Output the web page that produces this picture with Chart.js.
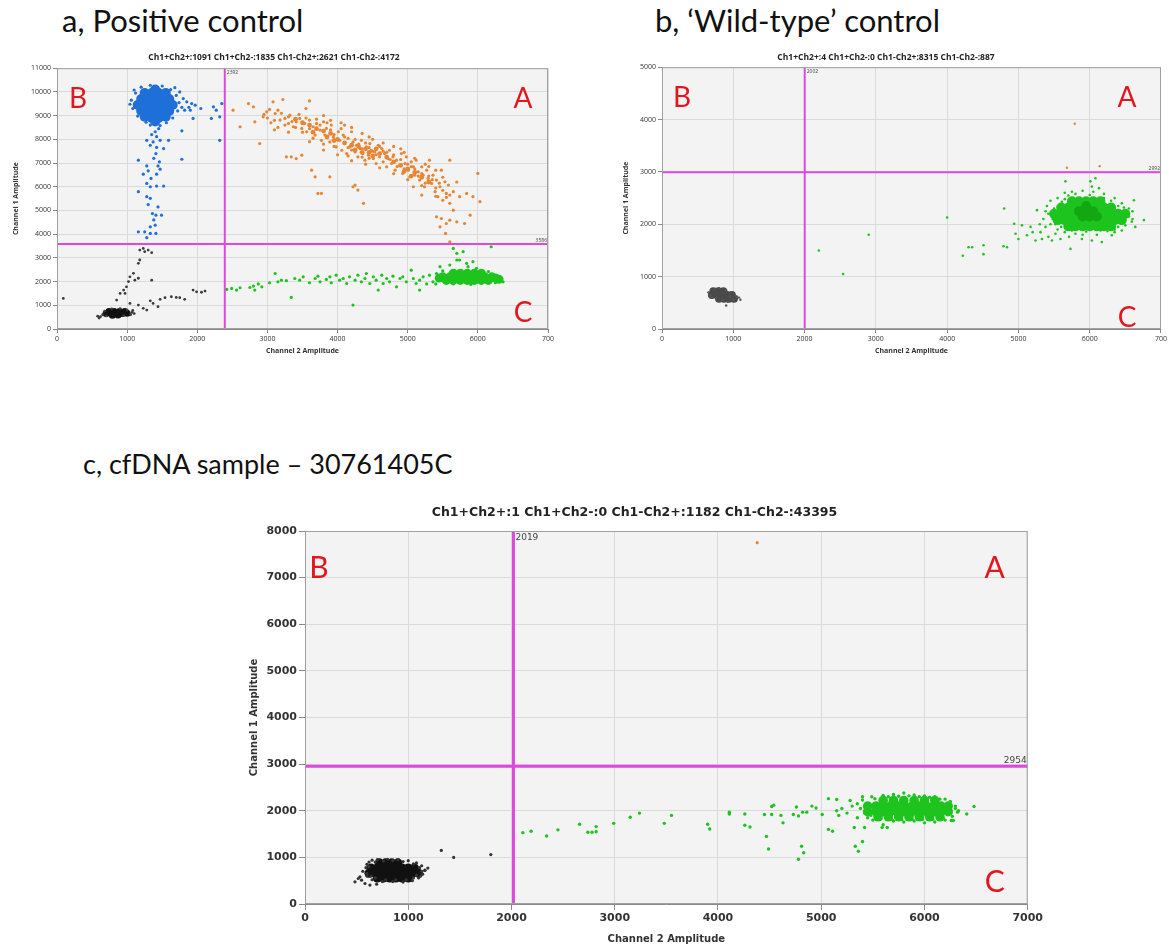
<!DOCTYPE html>
<html>
<head>
<meta charset="utf-8">
<script src="https://cdn.jsdelivr.net/npm/chart.js@4.4.1/dist/chart.umd.min.js"></script>
<style>
  body { margin: 0; background: #fff; width: 1169px; height: 947px; position: relative; overflow: hidden; }
  .panel-title { position: absolute; font-family: Lato, "Open Sans", sans-serif; color: #111; white-space: nowrap; }
  .box { position: absolute; }
</style>
</head>
<body>
<div class="panel-title" style="left:62px;top:1px;font-size:31px">a, Positive control</div>
<div class="panel-title" style="left:655px;top:1px;font-size:31px">b, ‘Wild-type’ control</div>
<div class="panel-title" style="left:83px;top:447px;font-size:27px">c, cfDNA sample – 30761405C</div>

<div class="box" style="left:0;top:52px;width:560px;height:307px"><canvas id="chartA"></canvas></div>
<div class="box" style="left:610px;top:52px;width:559px;height:307px"><canvas id="chartB"></canvas></div>
<div class="box" style="left:240px;top:505px;width:805px;height:442px"><canvas id="chartC"></canvas></div>

<script>
// ---- shared labels ----
const quadLetters = ['B', 'A', 'C'];
const xTitle = 'Channel 2 Amplitude';
const yTitle = 'Channel 1 Amplitude';
const xTickValues = [0, 1000, 2000, 3000, 4000, 5000, 6000, 7000];

// ---- a, Positive control ----
const headerA = 'Ch1+Ch2+:1091 Ch1+Ch2-:1835 Ch1-Ch2+:2621 Ch1-Ch2-:4172';
const xTicksA = ['0', '1000', '2000', '3000', '4000', '5000', '6000', '700'];
const yMaxA = 11000;
const thrA = [2392, 3586];

const blueCoreA = [
  [1250, 8950], [1350, 8900], [1450, 8900], [1550, 8950],
  [1200, 9200], [1300, 9200], [1400, 9200], [1500, 9200], [1600, 9200],
  [1150, 9450], [1250, 9450], [1350, 9450], [1450, 9450], [1550, 9450], [1650, 9450],
  [1200, 9700], [1300, 9700], [1400, 9700], [1500, 9700], [1600, 9700],
  [1250, 9950], [1350, 9950], [1450, 9950], [1550, 9950],
  [1400, 10100], [1400, 8750]
];
const blueA = [
  [1080, 9300], [1060, 9650], [1120, 9950], [1200, 10200], [1330, 10280], [1500, 10250],
  [1620, 10100], [1700, 9850], [1740, 9550], [1720, 9200], [1650, 8900], [1560, 8700],
  [1270, 8720], [1150, 8980], [1330, 8600], [1470, 8580], [1040, 9480], [1780, 9350],
  [1100, 10080], [1680, 10180],
  [1400, 8320], [1420, 8110], [1280, 7960], [1370, 7890], [1470, 7960], [1590, 7960],
  [1330, 7750], [1420, 7660], [1520, 7610], [1410, 7400], [1160, 7120], [1780, 7160],
  [1280, 6880], [1440, 6880], [1470, 6740], [1420, 6530], [1300, 6670], [1230, 6530],
  [1280, 6140], [1330, 6000], [1420, 6030], [1520, 6030], [1160, 5790], [1280, 5580],
  [1330, 5510], [1360, 4870], [1410, 4800], [1490, 4800], [1330, 4310], [1400, 4380],
  [1250, 4100], [1160, 4100], [1330, 4030], [1410, 4030], [1350, 8200], [1450, 8450],
  [1380, 7200], [1460, 7050], [1340, 6350], [1300, 5250], [1440, 5150], [1380, 4600],
  [1280, 3850],
  [1750, 10000], [1800, 9720], [1850, 9580], [1920, 9510], [1970, 9440], [1820, 9230],
  [1900, 9230], [1940, 8880], [1780, 8360], [2230, 9370], [2270, 9230], [2350, 9510],
  [2320, 8950], [2320, 7960], [2200, 8880], [1880, 9350], [2050, 9300]
];
const orangeCoreA = [
  [3400, 8850], [3500, 8700], [3600, 8600], [3700, 8450], [3800, 8350], [3900, 8250],
  [3650, 8300], [3850, 8100], [4000, 8000], [4100, 7850], [4200, 7750], [4300, 7700],
  [4400, 7600], [4250, 7550], [4450, 7450], [4550, 7600], [4600, 7400], [4500, 7300],
  [4700, 7250], [4800, 7050], [4900, 6900], [5000, 6750], [5100, 6600], [4950, 6650],
  [5050, 6450], [5200, 6400], [5300, 6200], [3950, 7950], [4350, 7450]
];
const orangeA = [
  [2510, 9230], [2610, 8530], [2730, 9510], [2800, 9370], [2820, 8740], [2890, 7820],
  [2940, 8950], [2990, 9160], [3030, 9260], [3080, 9580], [3110, 9090], [3150, 9230],
  [3180, 8810], [3220, 9680], [3250, 8880], [3300, 8670], [3320, 9020], [3370, 8530],
  [3410, 8740], [3460, 8880], [3490, 8460], [3530, 8670], [3560, 8320], [3600, 9620],
  [3600, 8810], [3650, 8530], [3680, 8180], [3700, 8670], [3750, 8390], [3770, 7960],
  [3800, 8740], [3820, 8180], [3840, 8460], [3890, 7890], [3910, 8600], [3940, 8100],
  [3980, 7680], [4010, 8320], [4030, 7960], [4060, 7540], [4080, 8180], [4100, 7820],
  [4130, 7400], [4150, 8040], [4170, 7680], [4200, 8320], [4220, 7890], [4250, 7470],
  [4270, 7750], [4290, 7260], [4320, 7610], [4340, 7960], [4360, 7400], [4390, 7120],
  [4410, 7680], [4440, 7330], [4460, 7820], [4480, 7540], [4510, 7190], [4530, 7470],
  [4550, 6980], [4580, 7750], [4600, 7260], [4630, 7610], [4650, 7050], [4670, 7400],
  [4700, 6840], [4720, 7190], [4740, 7540], [4770, 6980], [4790, 7260], [4820, 6700],
  [4840, 7120], [4890, 6910], [4910, 7400], [4930, 6560], [4960, 6980], [4980, 7260],
  [5010, 6700], [5030, 6420], [5050, 7050], [5080, 6840], [5100, 6490], [5120, 7120],
  [5150, 6630], [5170, 6280], [5200, 6840], [5220, 6490], [5240, 6000], [5270, 6700],
  [5290, 6350], [5310, 7120], [5340, 6140], [5360, 6490], [5390, 5790], [5410, 6280],
  [5430, 5580], [5460, 6000], [5480, 6700], [5500, 5430], [5530, 6210], [5550, 5720],
  [5580, 6070], [5600, 7120], [5600, 5300], [5650, 5790], [5650, 5010], [5410, 4730],
  [5480, 4660], [5550, 4450], [5600, 4590], [5700, 4520], [5810, 4450], [5460, 4310],
  [5540, 4030], [5600, 3680], [5740, 5580], [5840, 5720], [5930, 5580], [6030, 5370],
  [5890, 4800], [6000, 6560], [5200, 5650], [5080, 6000], [4220, 6000], [4290, 5860],
  [4250, 6070], [4370, 5300], [3720, 5720], [3770, 5720], [3630, 6700], [3680, 6420],
  [3890, 6420], [3270, 7260], [3340, 7260], [3410, 7190], [3490, 7330],
  [3000, 8900], [3100, 8800], [3200, 9100], [3300, 8950], [3350, 8750], [3450, 9050],
  [3550, 8900], [3600, 8450], [3700, 8850], [3750, 8600], [3850, 8700], [3900, 8400],
  [3950, 8200], [4050, 8450], [4100, 8100], [4150, 7650], [4200, 7550], [4250, 8000],
  [4300, 7800], [4350, 7600], [4400, 7850], [4450, 7650], [4500, 7500], [4550, 7350],
  [4600, 7700], [4650, 7500], [4700, 7450], [4750, 7150], [4800, 7350], [4850, 6850],
  [4900, 7150], [4950, 6750], [5000, 6950], [5050, 6850], [5100, 6750], [5150, 6450],
  [5200, 6550], [5250, 6150], [5300, 6450], [5350, 6300], [5400, 5950], [5450, 6150],
  [5500, 5850], [5550, 5550], [5600, 5650], [5500, 6400], [4450, 7200], [4350, 7250],
  [4150, 7300], [3950, 7700], [3800, 7800], [3650, 8050], [3500, 8300], [3400, 8500],
  [3250, 8600], [3150, 8500], [3050, 8700], [2950, 9050], [3550, 9300], [3800, 9000],
  [4100, 8600], [4450, 8100], [4900, 7600], [5300, 6850], [5700, 6200],
  [3900, 8800], [4050, 8700], [4200, 8500], [4350, 8250], [4500, 8000], [4650, 7850],
  [4800, 7700], [4950, 7450], [5100, 7200], [5250, 6950], [5400, 6700], [3600, 7900],
  [3800, 7550], [4000, 7350], [4200, 7100], [4400, 6950], [4600, 6800], [4800, 6550],
  [5000, 6300], [5200, 6050], [5400, 5600], [3300, 8300], [3100, 8400]
];
const greenCoreA = [
  [5650, 2350], [5750, 2350], [5850, 2350], [5950, 2350], [6050, 2350],
  [5500, 2200], [5600, 2200], [5700, 2200], [5800, 2200], [5900, 2200], [6000, 2200], [6100, 2200], [6200, 2200],
  [5550, 2050], [5650, 2050], [5750, 2050], [5850, 2050], [5950, 2050], [6050, 2050], [6150, 2050],
  [6250, 2150], [6300, 2100], [5450, 2150]
];
const greenA = [
  [2420, 1670], [2490, 1710], [2560, 1640], [2610, 1740], [2750, 1750], [2800, 1810],
  [2820, 1640], [2870, 1900], [2920, 1780], [3030, 1950], [3110, 2340], [3150, 1990],
  [3200, 2060], [3270, 2040], [3340, 1330], [3390, 2130], [3460, 2060], [3510, 2200],
  [3600, 1950], [3680, 2130], [3720, 2230], [3750, 1990], [3840, 2090], [3890, 2200],
  [3910, 1950], [3980, 2270], [4030, 2060], [4080, 2130], [4130, 1920], [4170, 2200],
  [4220, 1010], [4250, 2060], [4290, 2270], [4340, 1990], [4390, 2130], [4410, 2340],
  [4460, 1920], [4510, 2200], [4550, 2060], [4580, 1640], [4630, 2270], [4650, 1920],
  [4700, 2130], [4740, 1990], [4790, 2230], [4840, 1780], [4890, 2130], [4930, 2200],
  [4980, 1990], [5050, 2480], [5080, 2130], [5120, 1920], [5170, 2060], [5170, 1640],
  [5220, 2200], [5270, 1900], [5310, 2270], [5360, 1990], [5410, 2340], [5460, 2130],
  [5650, 3400], [5700, 3190], [5740, 2910], [5700, 2910], [5790, 3260], [5840, 2770],
  [5860, 2630], [5930, 2840], [5980, 2560], [6050, 2340], [6190, 3470], [6270, 2200],
  [6340, 2130], [6360, 1990], [5600, 2700], [5460, 2630], [5400, 1900], [5500, 2450],
  [6150, 2420], [6250, 1950], [5650, 1900], [5900, 1880]
];
const blackCoreA = [
  [700, 650], [775, 650], [850, 650], [925, 650], [1000, 660],
  [740, 740], [815, 740], [890, 740], [965, 740], [790, 580], [870, 590]
];
const blackA = [
  [620, 520], [650, 600], [680, 750], [700, 550], [1050, 600], [1070, 700], [1000, 800],
  [950, 560], [600, 460], [580, 540], [900, 860], [780, 850], [1080, 780], [1100, 650],
  [850, 1220], [900, 1500], [950, 1640], [990, 1780], [1020, 2000], [1110, 2060],
  [1160, 2140], [1090, 2350], [1040, 2200], [1160, 2770], [1180, 2910], [1180, 3330],
  [1230, 3400], [1300, 3330], [1250, 3260], [1350, 3220], [90, 1290], [1350, 2060],
  [970, 1500], [1160, 1010], [1230, 870], [1330, 1190], [1370, 1080], [1470, 1250],
  [1540, 1320], [1630, 1360], [1700, 1330], [1750, 1320], [1820, 1250], [1940, 1640],
  [1990, 1570], [2060, 1550], [2110, 1600], [1280, 800], [1440, 940], [1040, 1080]
];

// ---- b, 'Wild-type' control ----
const headerB = 'Ch1+Ch2+:4 Ch1+Ch2-:0 Ch1-Ch2+:8315 Ch1-Ch2-:887';
const xTicksB = ['0', '1000', '2000', '3000', '4000', '5000', '6000', '700'];
const yMaxB = 5000;
const thrB = [2002, 2992];

const greenCoreB = [
  [5750, 2440], [5850, 2440], [5950, 2440], [6050, 2440], [6150, 2440],
  [5600, 2320], [5700, 2320], [5800, 2320], [5900, 2320], [6000, 2320], [6100, 2320], [6200, 2320], [6300, 2320],
  [5500, 2200], [5600, 2200], [5700, 2200], [5800, 2200], [5900, 2200], [6000, 2200], [6100, 2200], [6200, 2200], [6300, 2200], [6400, 2200], [6500, 2200],
  [5550, 2080], [5650, 2080], [5750, 2080], [5850, 2080], [5950, 2080], [6050, 2080], [6150, 2080], [6250, 2080], [6350, 2080], [6450, 2080],
  [5700, 1960], [5800, 1960], [5900, 1960], [6000, 1960], [6100, 1960], [6200, 1960], [6300, 1960]
];
const greenDarkB = [
  [5850, 2250], [5950, 2250], [6050, 2250], [5900, 2150], [6000, 2150], [6100, 2150], [5950, 2350]
];
const greenB = [
  [4000, 2130], [2200, 1500], [2900, 1800], [2540, 1050], [4220, 1400], [4300, 1560],
  [4350, 1560], [4510, 1600], [4510, 1430], [4790, 1580], [4840, 1560], [4800, 2300],
  [4940, 2010], [4960, 1820], [5000, 1720], [5050, 1980], [5120, 1790], [5170, 1950],
  [5240, 1690], [5260, 2270], [5310, 1850], [5330, 1720], [5380, 1950], [5420, 1760],
  [5470, 1690], [5520, 1820], [5590, 1720], [5660, 2820], [5730, 1530], [6010, 2820],
  [6030, 2720], [6080, 2880], [6130, 2690], [5710, 1760], [5800, 1820], [5890, 1720],
  [6030, 1690], [6170, 1660], [6310, 1790], [6450, 1880], [6590, 2050], [6640, 1950],
  [6620, 2460], [6760, 2080], [5610, 2430], [5470, 2140], [6520, 2240], [5400, 2350],
  [5450, 2000], [5550, 1900], [5650, 1850], [6400, 2350], [6550, 2150], [5900, 1800],
  [6100, 1800], [5800, 2580], [6000, 2560], [6200, 2500], [5700, 2550], [5350, 2100],
  [5300, 2000], [5200, 1850], [6350, 1900], [6600, 2250],
  [5450, 2450], [5500, 2300], [5550, 2500], [5650, 2600], [5750, 2620], [5900, 2640],
  [6050, 2620], [6200, 2580], [6300, 2450], [6450, 2400], [6550, 2300], [6600, 2100],
  [6500, 1980], [6400, 1950], [6350, 1850], [6250, 1870], [6150, 1880], [5950, 1860],
  [5750, 1880], [5600, 1950], [5480, 2100], [5420, 2200], [5380, 2250], [5520, 2000],
  [6480, 2320], [5650, 2480], [6350, 2500]
];
const orangeB = [[5680, 3080], [6140, 3110], [5790, 3920]];
const blackCoreB = [
  [720, 720], [790, 720], [860, 720],
  [700, 650], [770, 650], [840, 650], [910, 650], [980, 650],
  [800, 580], [870, 580], [940, 580], [1010, 580]
];
const blackB = [
  [650, 700], [680, 640], [740, 760], [800, 780], [900, 740], [960, 700], [1050, 620],
  [1100, 560], [1080, 600], [920, 520], [900, 450], [850, 560], [700, 600], [1000, 560],
  [760, 600], [950, 620]
];

// ---- c, cfDNA sample ----
const headerC = 'Ch1+Ch2+:1 Ch1+Ch2-:0 Ch1-Ch2+:1182 Ch1-Ch2-:43395';
const xTicksC = ['0', '1000', '2000', '3000', '4000', '5000', '6000', '7000'];
const yMaxC = 8000;
const thrC = [2019, 2954];

const greenCoreC = [
  [5600, 2220], [5700, 2220], [5800, 2220], [5900, 2220], [6000, 2220], [6100, 2220],
  [5450, 2100], [5530, 2100], [5600, 2100], [5670, 2100], [5740, 2100], [5810, 2100],
  [5880, 2100], [5950, 2100], [6020, 2100], [6090, 2100], [6160, 2100], [6230, 2100],
  [5450, 1980], [5530, 1980], [5600, 1980], [5670, 1980], [5740, 1980], [5810, 1980],
  [5880, 1980], [5950, 1980], [6020, 1980], [6090, 1980], [6160, 1980], [6230, 1980],
  [5550, 1870], [5650, 1870], [5750, 1870], [5850, 1870], [5950, 1870], [6050, 1870], [6150, 1870]
];
const greenC = [
  [2110, 1530], [2190, 1560], [2340, 1460], [2450, 1590], [2660, 1710], [2740, 1540],
  [2780, 1540], [2820, 1660], [2820, 1550], [2990, 1730], [3150, 1860], [3240, 1950],
  [3480, 1730], [3550, 1900], [3900, 1710], [3920, 1610], [4110, 1970], [4110, 1930],
  [4260, 1930], [4260, 1690], [4310, 1650], [4450, 1920], [4520, 2090], [4540, 2120],
  [4520, 1920], [4610, 1900], [4630, 1740], [4470, 1450], [4490, 1180], [4730, 1920],
  [4760, 2080], [4780, 1890], [4820, 1970], [4860, 1970], [4910, 2100], [4950, 2060],
  [5010, 1920], [4780, 960], [4810, 1240], [4830, 1100], [5070, 2260], [5150, 2240],
  [5070, 1600], [5110, 1560], [5320, 1640], [5420, 1640], [5330, 1240], [5360, 1130],
  [5400, 1340], [5490, 2300], [5590, 1640], [5640, 1640], [6280, 1790], [6320, 1970],
  [6410, 1930], [6480, 2090],
  [5200, 2050], [5250, 1950], [5300, 2100], [5350, 2150], [5400, 2230], [5350, 1850],
  [5420, 1950], [5500, 1800], [5600, 2330], [5700, 2350], [5800, 2380], [5900, 2340],
  [6000, 2320], [6100, 2300], [6200, 2250], [6250, 2150], [6300, 2050], [6200, 1800],
  [6100, 1760], [6000, 1740], [5900, 1780], [5800, 1760], [5700, 1780], [5600, 1700],
  [5170, 1900], [5150, 2000], [5280, 2220], [6330, 2000], [6260, 1790],
  [5400, 2300], [5450, 1850], [5520, 2260], [5650, 2300], [5750, 2310], [5850, 2320],
  [5950, 2300], [6050, 2290], [6150, 2250], [6250, 2200], [6300, 2100], [6270, 1880],
  [6180, 1840], [6080, 1820], [5980, 1810], [5880, 1820], [5780, 1810], [5680, 1820],
  [5580, 1830], [5480, 1900], [5380, 2050]
];
const orangeC = [[4380, 7750]];
const blackCoreC = [
  [720, 880], [780, 880], [840, 880], [900, 880],
  [640, 770], [700, 770], [760, 770], [820, 770], [880, 770], [940, 770], [1000, 770], [1060, 770],
  [620, 660], [680, 660], [740, 660], [800, 660], [860, 660], [920, 660], [980, 660], [1040, 660], [1100, 660],
  [700, 560], [760, 560], [820, 560], [880, 560], [940, 560], [1000, 560]
];
const blackC = [
  [560, 700], [590, 780], [600, 850], [620, 900], [650, 940], [700, 950], [800, 960],
  [900, 950], [1000, 930], [1080, 880], [1130, 820], [1160, 720], [1140, 640], [1100, 560],
  [1040, 500], [950, 470], [850, 480], [750, 480], [650, 520], [600, 600], [484, 476],
  [516, 547], [548, 511], [581, 440], [629, 405], [694, 426], [532, 582], [1162, 725],
  [1190, 770], [1120, 600], [1320, 1150], [1440, 1000], [1800, 1060],
  [600, 650], [620, 800], [680, 900], [760, 920], [850, 930], [950, 910], [1050, 860],
  [1110, 780], [1130, 700], [1080, 620], [1050, 560], [980, 520], [880, 520], [780, 520],
  [680, 560], [640, 600]
];

// ---- colours ----
const BLUE = '#1f6fd8';
const ORANGE = '#e88532';
const GREEN = '#1ec41e';
const MAGENTA = '#de48de';

function toPts(arr) {
  return arr.map(p => ({ x: p[0], y: p[1] }));
}

function dots(arr, color, r) {
  return {
    data: toPts(arr),
    backgroundColor: color,
    borderColor: color,
    borderWidth: 0,
    pointRadius: r,
    pointHoverRadius: r
  };
}

function thrLines(thr, yMax, w) {
  const base = { borderColor: MAGENTA, borderWidth: w, pointRadius: 0, showLine: true, fill: false };
  return [
    Object.assign({ data: [{ x: thr[0], y: 0 }, { x: thr[0], y: yMax }] }, base),
    Object.assign({ data: [{ x: 0, y: thr[1] }, { x: 7000, y: thr[1] }] }, base)
  ];
}

// plot background, frame, threshold values and quadrant letters
const decor = {
  id: 'decor',
  beforeDraw(chart, args, o) {
    const { ctx, chartArea: a } = chart;
    ctx.save();
    ctx.fillStyle = '#f3f3f3';
    ctx.fillRect(a.left, a.top, a.width, a.height);
    ctx.restore();
  },
  afterDraw(chart, args, o) {
    const { ctx, chartArea: a, scales } = chart;
    ctx.save();
    ctx.strokeStyle = '#a0a0a0';
    ctx.lineWidth = 1;
    ctx.strokeRect(a.left + 0.5, a.top + 0.5, a.width - 1, a.height - 1);

    ctx.font = o.thrFont;
    ctx.fillStyle = '#444';
    const vx = scales.x.getPixelForValue(o.thr[0]);
    const hy = scales.y.getPixelForValue(o.thr[1]);
    ctx.textAlign = 'left';
    ctx.textBaseline = 'top';
    ctx.fillText(String(o.thr[0]), vx + 2, a.top + 2);
    ctx.textAlign = 'right';
    ctx.textBaseline = 'bottom';
    ctx.fillText(String(o.thr[1]), a.right - 1, hy - 1);

    ctx.font = o.letterFont;
    ctx.fillStyle = '#e3161e';
    ctx.textAlign = 'center';
    ctx.textBaseline = 'alphabetic';
    ctx.fillText(quadLetters[0], a.left + o.bx, a.top + o.ty);
    ctx.fillText(quadLetters[1], a.right - o.ax, a.top + o.ty);
    ctx.fillText(quadLetters[2], a.right - o.ax, a.bottom - o.by);
    ctx.restore();
  }
};

function makeChart(id, s) {
  new Chart(document.getElementById(id), {
    type: 'scatter',
    data: { datasets: s.datasets },
    options: {
      responsive: true,
      maintainAspectRatio: false,
      animation: false,
      events: [],
      layout: { padding: { left: 0, right: s.padRight, top: 0, bottom: 0 } },
      plugins: {
        legend: { display: false },
        tooltip: { enabled: false },
        title: {
          display: true,
          text: s.header,
          color: '#222',
          font: s.headerFont,
          padding: { top: 0, bottom: s.headerGap }
        },
        decor: s.decor
      },
      scales: {
        x: {
          type: 'linear',
          min: 0,
          max: 7000,
          afterBuildTicks: sc => { sc.ticks = xTickValues.map(v => ({ value: v })); },
          afterFit: sc => { sc.height = s.xHeight; },
          ticks: {
            color: '#333',
            font: s.tickFont,
            padding: 2,
            maxRotation: 0,
            callback: (v, i) => s.xLabels[i]
          },
          grid: { color: '#dadada', tickColor: '#8a8a8a', tickLength: s.tickLen },
          border: { color: '#8a8a8a' },
          title: { display: true, text: xTitle, color: '#333', font: s.axisFont, padding: { top: 0, bottom: s.xTitlePad } }
        },
        y: {
          type: 'linear',
          min: 0,
          max: s.yMax,
          ticks: { stepSize: 1000, color: '#333', font: s.tickFont, padding: 2, callback: v => String(v) },
          afterFit: sc => { sc.width = s.yWidth; },
          grid: { color: '#dadada', tickColor: '#8a8a8a', tickLength: s.tickLen },
          border: { color: '#8a8a8a' },
          title: { display: true, text: yTitle, color: '#333', font: s.axisFont, padding: { top: s.yTitlePad, bottom: 0 } }
        }
      }
    },
    plugins: [decor]
  });
}

const smallTick = { family: 'Open Sans', size: 7 };
const smallAxis = { family: 'Open Sans', size: 7, weight: 'bold' };

makeChart('chartA', {
  header: headerA,
  headerFont: { family: 'Open Sans', size: 8.5 },
  headerGap: 6,
  padRight: 12,
  yWidth: 57,
  xHeight: 30,
  yMax: yMaxA,
  xLabels: xTicksA,
  tickFont: smallTick,
  axisFont: smallAxis,
  tickLen: 4,
  xTitlePad: 4,
  yTitlePad: 12,
  decor: { thr: thrA, thrFont: '5px "Open Sans"', letterFont: '28px Lato', bx: 21, ax: 25, ty: 40, by: 7 },
  datasets: [
    ...thrLines(thrA, yMaxA, 2),
    dots(blueA, BLUE, 1.6),
    dots(blueCoreA, BLUE, 5),
    dots(orangeA, ORANGE, 1.6),
    dots(orangeCoreA, ORANGE, 2.4),
    dots(greenA, GREEN, 1.6),
    dots(greenCoreA, GREEN, 4.5),
    dots(blackA, '#3a3a3a', 1.4),
    dots(blackCoreA, '#111', 3.5)
  ]
});

makeChart('chartB', {
  header: headerB,
  headerFont: { family: 'Open Sans', size: 8.5 },
  headerGap: 5,
  padRight: 7,
  yWidth: 52,
  xHeight: 30,
  yMax: yMaxB,
  xLabels: xTicksB,
  tickFont: smallTick,
  axisFont: smallAxis,
  tickLen: 4,
  xTitlePad: 4,
  yTitlePad: 12,
  decor: { thr: thrB, thrFont: '5px "Open Sans"', letterFont: '28px Lato', bx: 20, ax: 34, ty: 40, by: 2 },
  datasets: [
    ...thrLines(thrB, yMaxB, 2),
    dots(orangeB, ORANGE, 1.2),
    dots(greenB, GREEN, 1.3),
    dots(greenDarkB, '#12a812', 5),
    dots(greenCoreB, GREEN, 5),
    dots(blackB, '#555', 1.2),
    dots(blackCoreB, '#4a4a4a', 4)
  ]
});

makeChart('chartC', {
  header: headerC,
  headerFont: { family: 'DejaVu Sans', size: 12.5, weight: 'bold' },
  headerGap: 11,
  padRight: 16,
  yWidth: 65,
  xHeight: 43,
  yMax: yMaxC,
  xLabels: xTicksC,
  tickFont: { family: 'DejaVu Sans', size: 11, weight: 'bold' },
  axisFont: { family: 'DejaVu Sans', size: 10, weight: 'bold' },
  tickLen: 6,
  xTitlePad: 2,
  yTitlePad: 8,
  decor: { thr: thrC, thrFont: '9px "DejaVu Sans"', letterFont: '30px Lato', bx: 14, ax: 33, ty: 47, by: 12 },
  datasets: [
    ...thrLines(thrC, yMaxC, 3),
    dots(orangeC, ORANGE, 1.6),
    dots(greenC, GREEN, 1.7),
    dots(greenCoreC, GREEN, 4.8),
    dots(blackC, '#333', 1.6),
    dots(blackCoreC, '#111', 4.6)
  ]
});
</script>
</body>
</html>
